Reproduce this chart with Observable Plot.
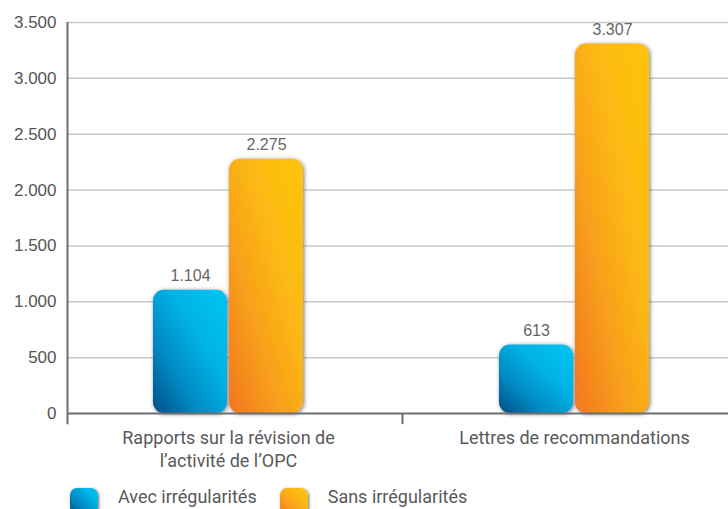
<!DOCTYPE html>
<html>
<head>
<meta charset="utf-8">
<script src="https://cdn.jsdelivr.net/npm/d3@7"></script>
<script src="https://cdn.jsdelivr.net/npm/@observablehq/plot@0.6"></script>
<style>
  html, body { margin: 0; padding: 0; background: #fff; overflow: hidden; }
  #chart { width: 728px; }
  .legend { display: flex; align-items: flex-start; height: 31px; padding-top: 9px; padding-left: 70px; box-sizing: border-box;
            font-family: Roboto, "Liberation Sans", sans-serif; font-size: 18px; line-height: 20px; color: #58595b; }
  .legend .sw { width: 28px; height: 26px; margin-top: 1px; border-radius: 7px; box-shadow: 1px 1px 3px rgba(60,60,60,0.75); margin-right: 20px; }
  .legend .item { display: flex; align-items: flex-start; margin-right: 23px; }
</style>
</head>
<body>
<div id="chart"></div>
<script>
// Contrôles : nombre de documents avec / sans irrégularités
const groups = ["Rapports sur la révision de\nl’activité de l’OPC", "Lettres de recommandations"];
const series = ["Avec irrégularités", "Sans irrégularités"];
const avec = [1104, 613];
const sans = [2275, 3307];
const yTicks = [0, 500, 1000, 1500, 2000, 2500, 3000, 3500];

const locale = d3.formatLocale({decimal: ",", thousands: ".", grouping: [3], currency: ["", " €"]});
const fmt = locale.format(",d");

const rows = groups.map((g, i) => ({group: g, avec: avec[i], sans: sans[i]}));

const axisColor = "#6d6e71";

const svg = Plot.plot({
  width: 728,
  height: 478,
  marginTop: 22,
  marginLeft: 67,
  marginRight: 0,
  marginBottom: 65,
  style: {fontFamily: "'Liberation Sans', Arial, sans-serif", fontSize: "17px", color: "#555", background: "#fff", overflow: "visible"},
  x: {type: "band", domain: groups, range: [55, 747], padding: 0, axis: null},
  y: {domain: [0, 3500], ticks: yTicks, tickFormat: fmt, tickSize: 0, tickPadding: 11, label: null},
  marks: [
    Plot.ruleY(yTicks.filter(v => v > 0), {stroke: "#c8c8c8", strokeWidth: 1.5}),
    Plot.barY(rows, {x: "group", y: "avec", fill: "url(#gradAvec)", insetLeft: 98, insetRight: 174, rx: 11, ry: 11}),
    Plot.barY(rows, {x: "group", y: "sans", fill: "url(#gradSans)", insetLeft: 174, insetRight: 98, rx: 11, ry: 11}),
    Plot.text(rows, {x: "group", y: "avec", text: d => fmt(d.avec), dx: -38, dy: -14, fill: "#666", fontSize: 16}),
    Plot.text(rows, {x: "group", y: "sans", text: d => fmt(d.sans), dx: 38, dy: -14, fill: "#666", fontSize: 16}),
    // axes
    Plot.ruleY([0], {stroke: axisColor, strokeWidth: 2}),
    Plot.ruleX([groups[0]], {y1: -100, y2: 3500, dx: -161, stroke: axisColor, strokeWidth: 2}),
    Plot.ruleX([groups[1]], {y1: -100, y2: 0, dx: -172, stroke: axisColor, strokeWidth: 2}),
    // category labels
    Plot.text(groups, {x: d => d, y: () => 0, text: d => d, dy: 15, lineAnchor: "top", lineHeight: 1.24,
      fill: "#58595b", fontSize: 18, fontFamily: "Roboto, 'Liberation Sans', sans-serif"})
  ]
});

// y tick labels at a larger size
d3.select(svg).selectAll("g[aria-label^='y-axis']").attr("font-size", 17).style("font-size", "17px");
d3.select(svg).selectAll("g[aria-label^='y-axis'] text").attr("font-size", 17).attr("fill", "#555");

// gradients and soft shadow for the bars
const defs = d3.select(svg).insert("defs", ":first-child");
function grad(id, stops) {
  const g = defs.append("linearGradient").attr("id", id)
    .attr("x1", 0).attr("y1", 1).attr("x2", 1).attr("y2", 0);
  stops.forEach(([o, c]) => g.append("stop").attr("offset", o).attr("stop-color", c));
}
grad("gradAvec", [[0, "#004d85"], [0.3, "#0089c2"], [0.62, "#00b3e6"], [1, "#00c5f3"]]);
grad("gradSans", [[0, "#f37621"], [0.35, "#f8a01b"], [0.65, "#fcba12"], [1, "#fec40f"]]);
const f = defs.append("filter").attr("id", "shade").attr("x", "-20%").attr("y", "-10%").attr("width", "140%").attr("height", "120%");
f.append("feGaussianBlur").attr("in", "SourceAlpha").attr("stdDeviation", 2).attr("result", "b");
f.append("feOffset").attr("in", "b").attr("dx", 1).attr("dy", 1).attr("result", "o");
f.append("feFlood").attr("flood-color", "#4a4a4a").attr("flood-opacity", 0.75);
f.append("feComposite").attr("in2", "o").attr("operator", "in").attr("result", "s");
const m = f.append("feMerge");
m.append("feMergeNode").attr("in", "s");
m.append("feMergeNode").attr("in", "SourceGraphic");
d3.select(svg).selectAll("g[aria-label=bar] rect").attr("filter", "url(#shade)");

document.getElementById("chart").append(svg);

// legend
const legend = d3.select("#chart").append("div").attr("class", "legend");
const swatches = ["linear-gradient(45deg, #004d85 0%, #0089c2 35%, #00b3e6 70%, #00c5f3 100%)",
                  "linear-gradient(45deg, #f37621 0%, #f8a01b 35%, #fcba12 70%, #fec40f 100%)"];
series.forEach((s, i) => {
  const it = legend.append("div").attr("class", "item");
  it.append("div").attr("class", "sw").style("background", swatches[i]);
  it.append("span").text(s);
});
</script>
</body>
</html>
